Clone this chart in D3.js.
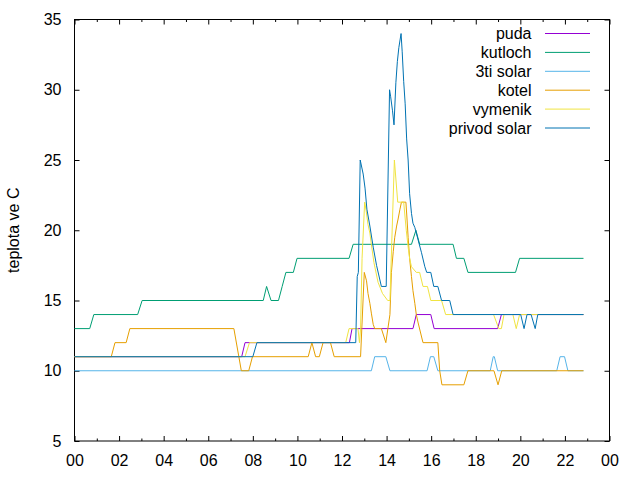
<!DOCTYPE html>
<html>
<head>
<meta charset="utf-8">
<script src="https://cdn.jsdelivr.net/npm/d3@7"></script>
<style>
  body { margin: 0; background: #fff; }
  text { font-family: "Liberation Sans", Arial, sans-serif; }
</style>
</head>
<body>
<div id="chart"></div>
<script>
// Data: [time of day, temperature]
const puda = [
  ["00:00",11],["07:30",11],["07:39",12],["12:20",12],["12:27",13],["15:11",13],["15:20",14],
  ["15:59",14],["16:08",13],["18:59",13],["19:09",14],["22:50",14]
];
const kutloch = [
  ["00:00",13],["00:41",13],["00:52",14],["02:50",14],["03:02",15],["08:28",15],["08:37",16],
  ["08:49",15],["09:09",15],["09:19",16],["09:29",17],["09:49",17],["09:59",18],["12:19",18],
  ["12:30",19],["15:07",19],["15:19",20],["15:29",19],["16:59",19],["17:08",18],["17:28",18],
  ["17:39",17],["19:47",17],["19:58",18],["22:50",18]
];
const tretiSolar = [
  ["00:00",10],["13:19",10],["13:28",11],["13:58",11],["14:09",10],["15:49",10],["15:58",11],
  ["16:07",11],["16:18",10],["18:39",10],["18:47",11],["18:50",11],["18:59",10],["21:38",10],
  ["21:47",11],["21:59",11],["22:08",10],["22:50",10]
];
const kotel = [
  ["00:00",11],["01:39",11],["01:49",12],["02:19",12],["02:29",13],["07:09",13],["07:29",10],
  ["07:49",10],["07:59",11],["10:29",11],["10:39",12],["10:49",11],["10:59",11],["11:09",12],
  ["11:29",12],["11:39",11],["12:50",11],["13:00",17],["13:06",16.4],["13:10",15.5],["13:15",14.8],
  ["13:19",14.1],["13:24",13.3],["13:28",13],["13:46",13],["13:58",12],["14:09",14],["14:13",17],
  ["14:18",18.5],["14:22",19.5],["14:27",20.3],["14:31",20.8],["14:36",21.5],["14:40",22],
  ["14:52",22],["14:55",20.8],["14:58",19.5],["15:02",18],["15:07",16.7],["15:11",15.7],
  ["15:16",14.8],["15:20",14],["15:25",13.4],["15:38",12],["16:18",12],["16:23",10],["16:29",9],
  ["17:28",9],["17:39",10],["18:49",10],["19:00",9],["19:10",10],["22:50",10]
];
const vymenik = [
  ["00:00",11],["07:39",11],["07:51",12],["12:10",12],["12:19",13],["12:43",13],["12:47",12],
  ["12:50",13],["12:54",18],["13:01",22],["13:05",21.4],["13:10",20.4],["13:15",19.8],["13:19",19],
  ["13:26",17.7],["13:37",16.3],["13:49",15.5],["14:03",15],["14:09",15],["14:21",25],["14:30",22],
  ["14:46",22],["14:53",20],["14:58",18.8],["15:02",18],["15:07",17.4],["15:20",17],["15:29",17],
  ["15:38",16],["15:50",16],["15:59",15],["16:28",15],["16:39",14],["18:48",14],["19:02",13],
  ["19:09",13],["19:16",14],["19:40",14],["19:49",13],["19:58",14],["22:50",14]
];
const privodSolar = [
  ["00:00",11],["08:00",11],["08:11",12],["12:37",12],["12:41",16.7],["12:44",17],["12:49",25],
  ["12:57",24],["13:02",23],["13:07",21.5],["13:15",20.3],["13:24",18.8],["13:33",17.5],["13:46",16],
  ["13:59",16],["14:08",30],["14:11",29.5],["14:16",28.5],["14:20",27.5],["14:25",30.5],["14:29",32],
  ["14:33",33],["14:39",34],["14:42",32.7],["14:46",30.6],["14:50",29],["14:54",26.5],["14:58",25],
  ["15:02",22.6],["15:07",21.2],["15:11",20.5],["15:16",20.2],["15:25",19.3],["15:34",18.4],
  ["15:43",17.4],["15:48",17],["15:59",17],["16:07",16],["16:18",16],["16:28",15],["16:50",15],
  ["16:59",14],["20:01",14],["20:10",13],["20:18",14],["20:29",14],["20:40",13],["20:47",14],
  ["22:50",14]
];

const seriesNames = ["puda", "kutloch", "3ti solar", "kotel", "vymenik", "privod solar"];
const seriesData = [puda, kutloch, tretiSolar, kotel, vymenik, privodSolar];
const seriesColors = ["#9400d3", "#009e73", "#56b4e9", "#e69f00", "#f0e442", "#0072b2"];

const yTicks = [5, 10, 15, 20, 25, 30, 35];
const xTickHours = [0, 2, 4, 6, 8, 10, 12, 14, 16, 18, 20, 22, 24];
const xMinorHours = [1, 3, 5, 7, 9, 11, 13, 15, 17, 19, 21, 23];

// Layout
const W = 640, H = 480;
const margin = { top: 19.5, right: 30.5, bottom: 39, left: 74.5 };
const width = W - margin.left - margin.right,
      height = H - margin.top - margin.bottom;

const svg = d3.select("#chart").append("svg")
    .attr("width", W)
    .attr("height", H);

const g = svg.append("g")
    .attr("transform", `translate(${margin.left},${margin.top})`);

const toMin = s => { const [h, m] = s.split(":").map(Number); return h * 60 + m; };

const x = d3.scaleLinear().domain([0, 1440]).range([0, width]);
const y = d3.scaleLinear().domain([5, 35]).range([height, 0]);

const fontSize = "16px";
const major = 5, minor = 2.5;

// Axes (ticks inward, mirrored like gnuplot)
const styleAxis = sel => {
  sel.select(".domain").remove();
  sel.selectAll("line").attr("stroke", "#000");
  sel.selectAll("text").attr("font-size", fontSize).attr("fill", "#000")
     .attr("font-family", "Liberation Sans, Arial, sans-serif");
};

g.append("g")
    .attr("transform", `translate(0,${height})`)
    .call(d3.axisBottom(x).tickValues(xTickHours.map(h => h * 60))
        .tickSize(-major).tickPadding(14)
        .tickFormat(m => d3.format("02d")((m / 60) % 24)))
    .call(styleAxis);

g.append("g")
    .attr("transform", `translate(0,${height})`)
    .call(d3.axisBottom(x).tickValues(xMinorHours.map(h => h * 60))
        .tickSize(-minor).tickFormat(""))
    .call(styleAxis);

g.append("g")
    .call(d3.axisTop(x).tickValues(xTickHours.map(h => h * 60)).tickSize(-major).tickFormat(""))
    .call(styleAxis);

g.append("g")
    .call(d3.axisTop(x).tickValues(xMinorHours.map(h => h * 60)).tickSize(-minor).tickFormat(""))
    .call(styleAxis);

g.append("g")
    .call(d3.axisLeft(y).tickValues(yTicks).tickSize(-major).tickPadding(13))
    .call(styleAxis);

g.append("g")
    .attr("transform", `translate(${width},0)`)
    .call(d3.axisRight(y).tickValues(yTicks).tickSize(-major).tickFormat(""))
    .call(styleAxis);

// Border
g.append("rect")
    .attr("width", width)
    .attr("height", height)
    .attr("fill", "none")
    .attr("stroke", "#000")
    .attr("stroke-width", 1);

// Y label
svg.append("text")
    .attr("transform", `translate(19,${margin.top + height / 2}) rotate(-90)`)
    .attr("text-anchor", "middle")
    .attr("font-size", fontSize)
    .text("teplota ve C");

// Lines
const line = d3.line()
    .x(d => x(toMin(d[0])))
    .y(d => y(d[1]));

seriesData.forEach((data, i) => {
  g.append("path")
      .datum(data)
      .attr("fill", "none")
      .attr("stroke", seriesColors[i])
      .attr("stroke-width", 1)
      .attr("d", line);
});

// Legend
const legend = svg.append("g");
seriesNames.forEach((name, i) => {
  const ly = 33.5 + i * 18.9;
  legend.append("text")
      .attr("x", 531.5)
      .attr("y", ly)
      .attr("dy", "0.36em")
      .attr("text-anchor", "end")
      .attr("font-size", fontSize)
      .text(name);
  legend.append("line")
      .attr("x1", 545).attr("x2", 590)
      .attr("y1", ly).attr("y2", ly)
      .attr("stroke", seriesColors[i])
      .attr("stroke-width", 1);
});
</script>
</body>
</html>
